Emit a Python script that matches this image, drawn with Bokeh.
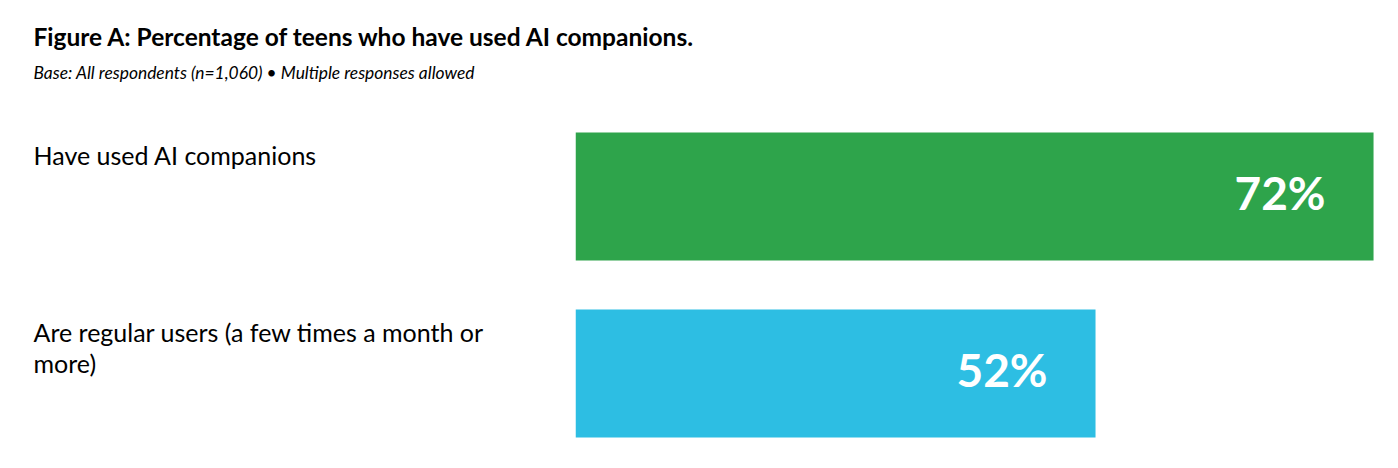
import textwrap
from bokeh.plotting import figure
from bokeh.models import Range1d, ColumnDataSource
from bokeh.layouts import column, row
from bokeh.core.properties import value
from bokeh.embed import file_html
from bokeh.resources import INLINE

title = "Figure A: Percentage of teens who have used AI companions."
subtitle = "Base: All respondents (n=1,060) \u2022 Multiple responses allowed"
categories = ["Have used AI companions", "Are regular users (a few times a month or more)"]
values = [72, 52]
value_labels = ["72%", "52%"]
colors = ["#2ea44b", "#2dbee3"]

FONT = value("Lato")
ypos = [0, -1]
BAR_H = 0.723


def blank(fig):
    fig.outline_line_color = None
    fig.grid.visible = False
    fig.background_fill_color = "white"
    fig.border_fill_color = "white"
    return fig


common = dict(output_backend="svg", toolbar_location=None, x_axis_location=None,
              y_axis_location=None, min_border=0)

# Title block
t = blank(figure(width=1390, height=120, x_range=Range1d(0, 1390), y_range=Range1d(120, 0), **common))
t.text(x=[33], y=[36], text=[title], text_font=FONT, text_font_style="bold",
       text_font_size="24.5px", text_color="black", text_baseline="alphabetic", text_align="left")
t.text(x=[33], y=[72], text=[subtitle], text_font=FONT, text_font_style="italic",
       text_font_size="17.4px", text_color="black", text_baseline="alphabetic", text_align="left")

yr = Range1d(-1.4915, 0.4294)

# Category labels
lab = blank(figure(width=575, height=340, x_range=Range1d(0, 575), y_range=yr, **common))
lab_src = ColumnDataSource(dict(
    x=[33] * len(categories),
    y=[yv + BAR_H / 2 - 0.045 for yv in ypos],
    text=[textwrap.fill(c, 41) for c in categories]))
lab.text(x="x", y="y", text="text", source=lab_src, text_font=FONT, text_font_size="25px",
         text_color="black", text_baseline="top", text_align="left", text_line_height=1.03)

# Bars
b = blank(figure(width=815, height=340, x_range=Range1d(14.59, 73.22), y_range=yr, **common))
src = ColumnDataSource(dict(y=ypos, v=values, c=colors, lab=value_labels))
b.hbar(y="y", left=0, right="v", height=BAR_H, fill_color="c", line_color=None, source=src)
b.text(x="v", y="y", text="lab", source=src, x_offset=-48, y_offset=-4, text_align="right",
       text_baseline="middle", text_color="white", text_font=FONT, text_font_style="bold",
       text_font_size="46px")

layout = column(t, row(lab, b, spacing=0), spacing=0)
open("out.html", "w").write(file_html(layout, INLINE))
